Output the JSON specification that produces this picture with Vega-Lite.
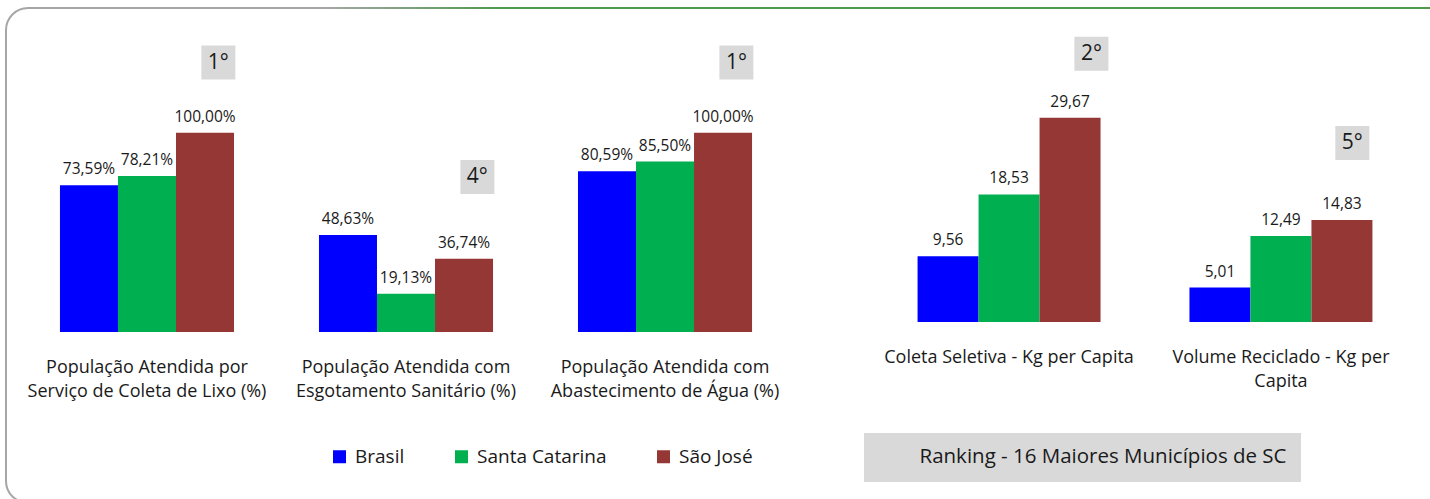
{
  "$schema": "https://vega.github.io/schema/vega-lite/v6.json",
  "width": 1450,
  "height": 495,
  "autosize": "none",
  "padding": {"left": 6, "top": 8, "right": 0, "bottom": 0},
  "background": "white",
  "config": {
    "locale": {"number": {"decimal": ",", "thousands": ".", "grouping": [3], "currency": ["R$", ""]}},
    "view": {
      "stroke": {"gradient": "linear", "x1": 0, "y1": 0, "x2": 1, "y2": 0, "stops": [
        {"offset": 0, "color": "#a6a6a6"}, {"offset": 0.22, "color": "#a6a6a6"},
        {"offset": 0.34, "color": "#4f9a4f"}, {"offset": 1, "color": "#4f9a4f"}]},
      "strokeWidth": 2,
      "cornerRadius": 22,
      "fill": "white"
    },
    "font": "Open Sans",
    "text": {"font": "Open Sans", "color": "#1a1a1a"}
  },
  "datasets": {
    "esq": [
      {"indicador": "População Atendida por\nServiço de Coleta de Lixo (%)", "local": "Brasil", "valor": 0.7359},
      {"indicador": "População Atendida por\nServiço de Coleta de Lixo (%)", "local": "Santa Catarina", "valor": 0.7821},
      {"indicador": "População Atendida por\nServiço de Coleta de Lixo (%)", "local": "São José", "valor": 1.0},
      {"indicador": "População Atendida com\nEsgotamento Sanitário (%)", "local": "Brasil", "valor": 0.4863},
      {"indicador": "População Atendida com\nEsgotamento Sanitário (%)", "local": "Santa Catarina", "valor": 0.1913},
      {"indicador": "População Atendida com\nEsgotamento Sanitário (%)", "local": "São José", "valor": 0.3674},
      {"indicador": "População Atendida com\nAbastecimento de Água (%)", "local": "Brasil", "valor": 0.8059},
      {"indicador": "População Atendida com\nAbastecimento de Água (%)", "local": "Santa Catarina", "valor": 0.855},
      {"indicador": "População Atendida com\nAbastecimento de Água (%)", "local": "São José", "valor": 1.0}
    ],
    "dir": [
      {"indicador": "Coleta Seletiva - Kg per Capita", "local": "Brasil", "valor": 9.56},
      {"indicador": "Coleta Seletiva - Kg per Capita", "local": "Santa Catarina", "valor": 18.53},
      {"indicador": "Coleta Seletiva - Kg per Capita", "local": "São José", "valor": 29.67},
      {"indicador": "Volume Reciclado - Kg per\nCapita", "local": "Brasil", "valor": 5.01},
      {"indicador": "Volume Reciclado - Kg per\nCapita", "local": "Santa Catarina", "valor": 12.49},
      {"indicador": "Volume Reciclado - Kg per\nCapita", "local": "São José", "valor": 14.83}
    ],
    "rank_esq": [
      {"indicador": "População Atendida por\nServiço de Coleta de Lixo (%)", "rank": "1°", "pos": 1.352, "rk": "Ranking - 16 Maiores Municípios de SC"},
      {"indicador": "População Atendida com\nEsgotamento Sanitário (%)", "rank": "4°", "pos": 0.778, "rk": "Ranking - 16 Maiores Municípios de SC"},
      {"indicador": "População Atendida com\nAbastecimento de Água (%)", "rank": "1°", "pos": 1.352, "rk": "Ranking - 16 Maiores Municípios de SC"}
    ],
    "rank_dir": [
      {"indicador": "Coleta Seletiva - Kg per Capita", "rank": "2°", "pos": 39.0},
      {"indicador": "Volume Reciclado - Kg per\nCapita", "rank": "5°", "pos": 26.0}
    ]
  },
  "layer": [
    {
      "layer": [
        {
          "data": {"name": "esq"},
          "mark": {"type": "bar"},
          "encoding": {
            "x": {"field": "indicador", "type": "nominal",
              "scale": {"type": "band", "domain": ["População Atendida por\nServiço de Coleta de Lixo (%)", "População Atendida com\nEsgotamento Sanitário (%)", "População Atendida com\nAbastecimento de Água (%)"], "range": [12, 788], "paddingInner": 0.328, "paddingOuter": 0.162},
              "axis": {"orient": "bottom", "offset": -171, "title": null, "domain": false, "ticks": false, "tickSize": 0, "labelAngle": 0, "labelPadding": 26, "labelFont": "Open Sans", "labelFontSize": 18, "labelColor": "#1a1a1a", "labelLineHeight": 24, "labelLimit": 400, "labelExpr": "split(datum.label, '\\n')"}},
            "xOffset": {"field": "local", "type": "nominal", "scale": {"domain": ["Brasil", "Santa Catarina", "São José"], "paddingInner": 0, "paddingOuter": 0}},
            "y": {"field": "valor", "type": "quantitative", "scale": {"domain": [0, 1.5], "range": [324, 25], "nice": false, "zero": true}, "axis": null},
            "color": {"field": "local", "type": "nominal",
              "scale": {"domain": ["Brasil", "Santa Catarina", "São José"], "range": ["#0000ff", "#00b050", "#953735"]},
              "legend": {"title": null, "orient": "none", "legendX": 324, "legendY": 439, "direction": "horizontal", "symbolType": "square", "symbolSize": 169, "symbolStrokeWidth": 0, "labelFont": "Open Sans", "labelFontSize": 19, "labelColor": "#1a1a1a", "columnPadding": 47, "labelOffset": 6, "padding": 0}}
          }
        },
        {
          "data": {"name": "esq"},
          "mark": {"type": "text", "baseline": "alphabetic", "dy": -11, "fontSize": 15.5},
          "encoding": {
            "x": {"field": "indicador", "type": "nominal"},
            "xOffset": {"field": "local", "type": "nominal"},
            "y": {"field": "valor", "type": "quantitative"},
            "text": {"field": "valor", "type": "quantitative", "format": ".2%"}
          }
        },
        {
          "data": {"name": "rank_esq"},
          "mark": {"type": "point", "filled": true, "size": 1156, "color": "#d9d9d9", "opacity": 1, "strokeWidth": 0},
          "encoding": {
            "x": {"field": "indicador", "type": "nominal", "bandPosition": 0.91},
            "y": {"field": "pos", "type": "quantitative"},
            "shape": {"field": "rk", "type": "nominal", "scale": {"range": ["square"]},
              "legend": {"title": null, "orient": "none", "legendX": 858, "legendY": 425, "padding": 14, "fillColor": "#d9d9d9", "symbolOpacity": 0, "symbolSize": 4, "labelOffset": 21, "labelFont": "Open Sans", "labelFontSize": 20.5, "labelColor": "#1a1a1a", "labelLimit": 0}}
          }
        },
        {
          "data": {"name": "rank_esq"},
          "mark": {"type": "text", "fontSize": 21, "baseline": "middle"},
          "encoding": {
            "x": {"field": "indicador", "type": "nominal", "bandPosition": 0.91},
            "y": {"field": "pos", "type": "quantitative"},
            "text": {"field": "rank"}
          }
        }
      ]
    },
    {
      "layer": [
        {
          "data": {"name": "dir"},
          "mark": {"type": "bar"},
          "encoding": {
            "x": {"field": "indicador", "type": "nominal",
              "scale": {"type": "band", "domain": ["Coleta Seletiva - Kg per Capita", "Volume Reciclado - Kg per\nCapita"], "range": [858, 1420], "paddingInner": 0.327, "paddingOuter": 0.197},
              "axis": {"orient": "bottom", "offset": -181, "title": null, "domain": false, "ticks": false, "tickSize": 0, "labelAngle": 0, "labelPadding": 26, "labelFont": "Open Sans", "labelFontSize": 18, "labelColor": "#1a1a1a", "labelLineHeight": 24, "labelLimit": 400, "labelExpr": "split(datum.label, '\\n')"}},
            "xOffset": {"field": "local", "type": "nominal", "scale": {"domain": ["Brasil", "Santa Catarina", "São José"], "paddingInner": 0, "paddingOuter": 0}},
            "y": {"field": "valor", "type": "quantitative", "scale": {"domain": [0, 42], "range": [314, 25], "nice": false, "zero": true}, "axis": null},
            "color": {"field": "local", "type": "nominal"}
          }
        },
        {
          "data": {"name": "dir"},
          "mark": {"type": "text", "baseline": "alphabetic", "dy": -11, "fontSize": 15.5},
          "encoding": {
            "x": {"field": "indicador", "type": "nominal"},
            "xOffset": {"field": "local", "type": "nominal"},
            "y": {"field": "valor", "type": "quantitative"},
            "text": {"field": "valor", "type": "quantitative", "format": ".2f"}
          }
        },
        {
          "data": {"name": "rank_dir"},
          "transform": [{"filter": "datum.rank == '2°'"}],
          "mark": {"type": "point", "shape": "square", "filled": true, "size": 1156, "color": "#d9d9d9", "opacity": 1, "strokeWidth": 0},
          "encoding": {
            "x": {"field": "indicador", "type": "nominal", "bandPosition": 0.95},
            "y": {"field": "pos", "type": "quantitative"}
          }
        },
        {
          "data": {"name": "rank_dir"},
          "transform": [{"filter": "datum.rank == '2°'"}],
          "mark": {"type": "text", "fontSize": 21, "baseline": "middle"},
          "encoding": {
            "x": {"field": "indicador", "type": "nominal", "bandPosition": 0.95},
            "y": {"field": "pos", "type": "quantitative"},
            "text": {"field": "rank"}
          }
        },
        {
          "data": {"name": "rank_dir"},
          "transform": [{"filter": "datum.rank == '5°'"}],
          "mark": {"type": "point", "shape": "square", "filled": true, "size": 1156, "color": "#d9d9d9", "opacity": 1, "strokeWidth": 0},
          "encoding": {
            "x": {"field": "indicador", "type": "nominal", "bandPosition": 0.89},
            "y": {"field": "pos", "type": "quantitative"}
          }
        },
        {
          "data": {"name": "rank_dir"},
          "transform": [{"filter": "datum.rank == '5°'"}],
          "mark": {"type": "text", "fontSize": 21, "baseline": "middle"},
          "encoding": {
            "x": {"field": "indicador", "type": "nominal", "bandPosition": 0.89},
            "y": {"field": "pos", "type": "quantitative"},
            "text": {"field": "rank"}
          }
        }
      ]
    }
  ],
  "resolve": {
    "scale": {"x": "independent", "xOffset": "independent", "y": "independent"},
    "axis": {"x": "independent", "y": "independent"}
  }
}
